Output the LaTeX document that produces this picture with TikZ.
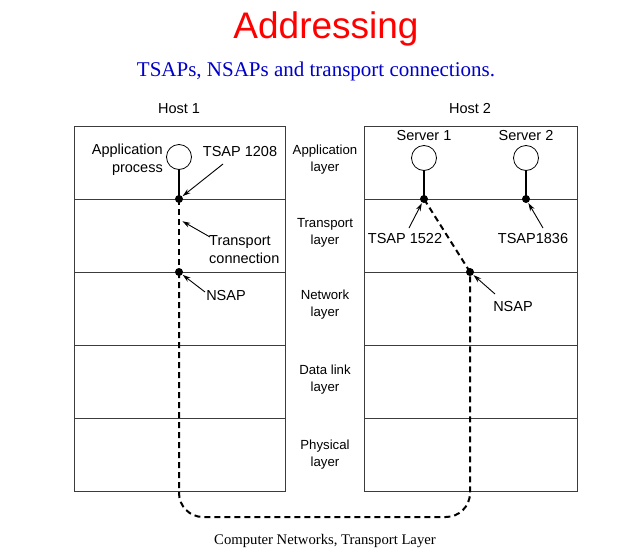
\documentclass[tikz,border=0pt]{standalone}
\usepackage{fontspec}
\setmainfont{Liberation Sans}
\newfontfamily\seriffont{Liberation Serif}
\usetikzlibrary{arrows.meta}
\definecolor{titlered}{RGB}{255,0,0}
\definecolor{subblue}{RGB}{0,0,200}
\definecolor{boxgray}{RGB}{60,60,60}
\begin{document}
\begin{tikzpicture}[x=1pt,y=-1pt,
  lbl/.style={font=\fontsize{14.5}{18}\selectfont, inner sep=0pt, align=center},
  layerlbl/.style={font=\fontsize{13.2}{17}\selectfont, inner sep=0pt, align=center},
  proc/.style={circle, draw, minimum size=25pt, inner sep=0pt, line width=0.8pt},
  sap/.style={circle, fill, minimum size=8pt, inner sep=0pt},
  stem/.style={line width=2pt},
  conn/.style={line width=2pt, dash pattern=on 6pt off 4pt},
  ptr/.style={-{Stealth[length=8pt,width=5pt]}, line width=0.9pt, shorten >=0.5pt},
  frame/.style={draw=boxgray, line width=0.9pt}]
\useasboundingbox (0,0) rectangle (640,549);

% title
\node[font=\fontsize{37}{40}\selectfont, text=titlered] (title) at (326,29) {Addressing};
\node[font=\seriffont\fontsize{21}{24}\selectfont, text=subblue] (subtitle) at (316,71) {TSAPs, NSAPs and transport connections.};
\node[font=\seriffont\fontsize{14.7}{17}\selectfont] (footer) at (325,541) {Computer Networks, Transport Layer};

% host boxes
\draw[frame] (74,126) rectangle (285,491);
\draw[frame] (364,126) rectangle (577,491);
\foreach \y in {199,272,345,418} {
  \draw[frame] (74,\y) -- (285,\y);
  \draw[frame] (364,\y) -- (577,\y);
}
\node[lbl] (host1) at (179,109) {Host 1};
\node[lbl] (host2) at (470,109) {Host 2};

% layer labels
\node[layerlbl] (lapp) at (325,160) {Application\\layer};
\node[layerlbl] (ltra) at (325,233) {Transport\\layer};
\node[layerlbl] (lnet) at (325,305) {Network\\layer};
\node[layerlbl] (ldl) at (325,380) {Data link\\layer};
\node[layerlbl] (lphy) at (325,455) {Physical\\layer};

% processes and access points
\node[proc] (app) at (179,157) {};
\node[sap] (t1208) at (179,199) {};
\node[sap] (n1) at (179,272) {};
\node[proc] (s1) at (424,158) {};
\node[proc] (s2) at (526,158) {};
\node[sap] (t1522) at (424,199) {};
\node[sap] (t1836) at (526,199) {};
\node[sap] (n2) at (470,272) {};

\draw[stem] (app.south) -- (t1208.center);
\draw[stem] (s1.south) -- (t1522.center);
\draw[stem] (s2.south) -- (t1836.center);

% transport connection
\coordinate (bl) at (179,517);
\coordinate (br) at (470,517);
\draw[conn] (t1208.center) -- (n1.center);
\draw[conn, rounded corners=24pt] (n1.center) -- (bl) -- (br) -- (n2.center);
\draw[conn] (n2.center) -- (t1522.center);

% labels with pointers
\node[lbl, anchor=east, align=right] (apptxt) at (163,160) {Application\\process};
\node[lbl] (tsap1208) at (240,152) {TSAP 1208};
\coordinate (p1208) at (223,164);
\draw[ptr] (p1208) -- (t1208);

\node[lbl, anchor=west, align=left] (tctxt) at (209,250) {Transport\\connection};
\coordinate (ptc) at (210,237);
\coordinate (tcend) at (182,221);
\draw[ptr] (ptc) -- (tcend);

\node[lbl] (nsap1) at (226,296) {NSAP};
\coordinate (pn1) at (205,292);
\draw[ptr] (pn1) -- (n1);

\node[lbl] (srv1) at (424,136) {Server 1};
\node[lbl] (srv2) at (526,136) {Server 2};

\node[lbl] (tsap1522) at (405,239) {TSAP 1522};
\coordinate (p1522) at (409,228);
\draw[ptr] (p1522) -- (t1522);

\node[lbl] (tsap1836) at (533,239) {TSAP1836};
\coordinate (p1836) at (543,228);
\draw[ptr] (p1836) -- (t1836);

\node[lbl] (nsap2) at (513,307) {NSAP};
\coordinate (pn2) at (495,294);
\draw[ptr] (pn2) -- (n2);
\end{tikzpicture}
\end{document}
